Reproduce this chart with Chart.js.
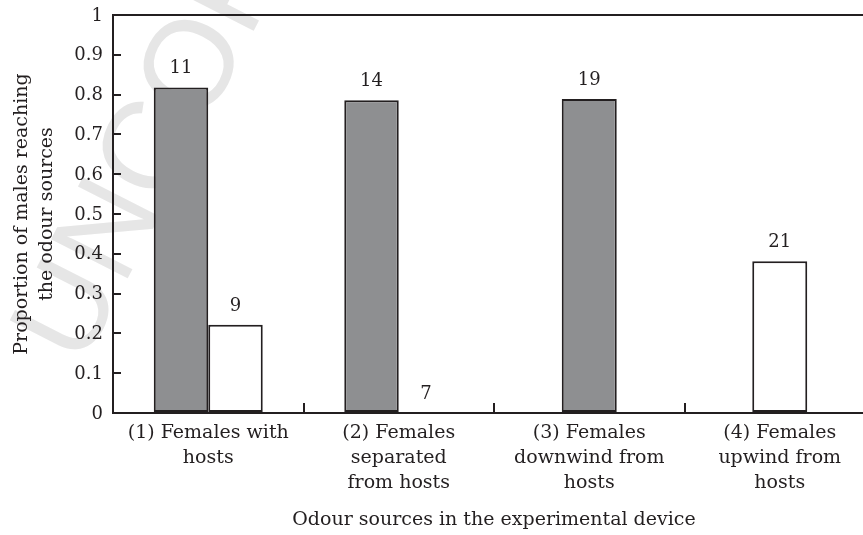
<!DOCTYPE html>
<html>
<head>
<meta charset="utf-8">
<script src="https://cdn.jsdelivr.net/npm/chart.js@4/dist/chart.umd.min.js"></script>
<style>
  html, body { margin: 0; padding: 0; background: #ffffff; overflow: hidden; }
  #wrap { width: 877px; height: 535px; }
</style>
</head>
<body>
<div id="wrap"><canvas id="c" width="877" height="535"></canvas></div>
<script>
// Odour source categories (multi-line axis labels)
const categories = [
  ["(1) Females with", "hosts"],
  ["(2) Females", "separated", "from hosts"],
  ["(3) Females", "downwind from", "hosts"],
  ["(4) Females", "upwind from", "hosts"]
];

// Proportion of males reaching each source (grey and white bars)
const proportionGrey  = [0.818, 0.786, 0.789, null];
const proportionWhite = [0.222, 0, null, 0.381];

// Number of males tested, printed above each bar
const countsGrey  = [11, 14, 19, null];
const countsWhite = [9, 7, null, 21];

// Y axis tick labels
const yTickLabels = ["0", "0.1", "0.2", "0.3", "0.4", "0.5", "0.6", "0.7", "0.8", "0.9", "1"];

const INK = "#231f20";
const SERIF = "'DejaVu Serif', serif";
const digitFont = { family: SERIF, size: 18 };
const textFont = { family: SERIF, size: 19 };

// Faint diagonal watermark behind the plot
const watermark = {
  id: "watermark",
  beforeDraw(chart) {
    const ctx = chart.ctx;
    ctx.save();
    ctx.translate(82, 368);
    ctx.rotate(-63 * Math.PI / 180);
    ctx.font = "125px 'Liberation Sans', sans-serif";
    ctx.fillStyle = "#e6e6e6";
    ctx.textBaseline = "alphabetic";
    ctx.fillText("UNCORRECTED PROOF", 0, 0);
    ctx.restore();
  }
};

// Top and right edges of the plot frame
const frame = {
  id: "frame",
  afterDraw(chart) {
    const { ctx, chartArea: a } = chart;
    ctx.save();
    ctx.strokeStyle = INK;
    ctx.lineWidth = 2;
    ctx.beginPath();
    ctx.moveTo(a.left, a.top);
    ctx.lineTo(a.right, a.top);
    ctx.lineTo(a.right, a.bottom);
    ctx.stroke();
    ctx.restore();
  }
};

// Sample sizes written above the bars
const countLabels = {
  id: "countLabels",
  afterDatasetsDraw(chart) {
    const ctx = chart.ctx;
    const counts = [countsGrey, countsWhite];
    ctx.save();
    ctx.font = "18px " + SERIF;
    ctx.fillStyle = INK;
    ctx.textAlign = "center";
    ctx.textBaseline = "alphabetic";
    chart.data.datasets.forEach((ds, di) => {
      const meta = chart.getDatasetMeta(di);
      meta.data.forEach((bar, i) => {
        const n = counts[di][i];
        if (n === null || ds.data[i] === null) return;
        ctx.fillText(String(n), bar.x, bar.y - 14);
      });
    });
    ctx.restore();
  }
};

new Chart(document.getElementById("c"), {
  type: "bar",
  data: {
    labels: categories,
    datasets: [
      {
        data: proportionGrey,
        backgroundColor: "#8e8f91",
        borderColor: INK,
        borderWidth: 2,
        borderSkipped: false
      },
      {
        data: proportionWhite,
        backgroundColor: "#ffffff",
        borderColor: INK,
        borderWidth: 2,
        borderSkipped: false
      }
    ]
  },
  options: {
    responsive: false,
    animation: false,
    devicePixelRatio: 1,
    layout: { padding: { top: 15, right: 2, left: 0, bottom: 0 } },
    skipNull: true,
    categoryPercentage: 0.572,
    barPercentage: 1,
    maxBarThickness: 55,
    plugins: { legend: { display: false }, tooltip: { enabled: false } },
    scales: {
      x: {
        offset: true,
        grid: { offset: true, drawOnChartArea: false, drawTicks: true, tickLength: -10, color: INK, lineWidth: 2 },
        border: { display: true, color: INK, width: 2 },
        ticks: { font: { ...textFont, lineHeight: 25 / 19 }, color: INK, padding: 18, maxRotation: 0, autoSkip: false },
        title: {
          display: true,
          text: "Odour sources in the experimental device",
          font: { ...textFont, lineHeight: 24 / 19 },
          color: INK,
          padding: { top: 0, bottom: 3 }
        },
        afterFit(s) { s.height = 122; }
      },
      y: {
        min: 0,
        max: 1,
        grid: { drawOnChartArea: false, drawTicks: true, tickLength: -8, color: INK, lineWidth: 2 },
        border: { display: true, color: INK, width: 2 },
        ticks: {
          stepSize: 0.1,
          font: digitFont,
          color: INK,
          padding: 18,
          labelOffset: 1,
          callback: (v, i) => yTickLabels[i]
        },
        title: {
          display: true,
          text: ["Proportion of males reaching", "the odour sources"],
          font: { ...textFont, lineHeight: 25 / 19 },
          color: INK,
          padding: { top: 10, bottom: 0 }
        },
        afterFit(s) {
          s.width = 113;
          s.paddingTop = 0;
          s.paddingBottom = 0;
        }
      }
    }
  },
  plugins: [watermark, frame, countLabels]
});
</script>
</body>
</html>
